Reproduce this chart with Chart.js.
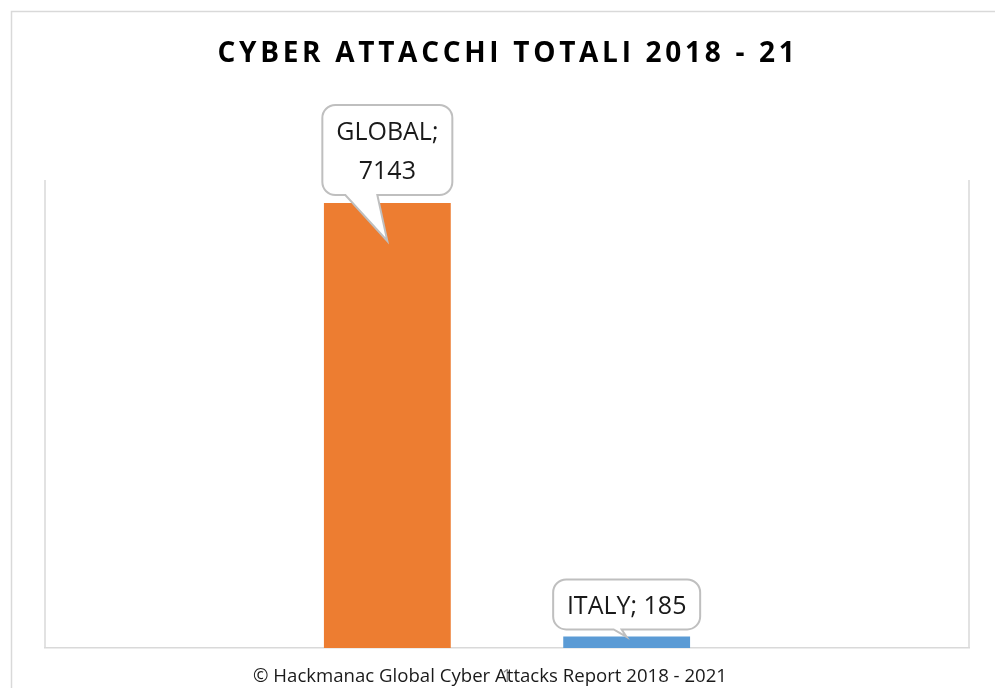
<!DOCTYPE html>
<html>
<head>
<meta charset="utf-8">
<script src="https://cdn.jsdelivr.net/npm/chart.js@4.4.1/dist/chart.umd.min.js"></script>
<style>
  html, body { margin: 0; padding: 0; background: #fff; }
  canvas { display: block; }
</style>
</head>
<body>
<canvas id="myChart" width="995" height="688"></canvas>
<script>
const categories = ['1']
const seriesNames = ['GLOBAL', 'ITALY']
const globalValues = [7143]
const italyValues = [185]
const seriesColors = ['#ED7D31', '#5B9BD5']
const chartTitle = 'CYBER ATTACCHI TOTALI 2018 - 21'
const footerText = '\u00A9 Hackmanac Global Cyber Attacks Report 2018 - 2021'

const lineGray = '#d9d9d9'
const textColor = '#1a1a1a'

const framePlugin = {
    id: 'frame',
    beforeDraw(chart) {
        const ctx = chart.ctx
        const area = chart.chartArea
        ctx.save()
        ctx.strokeStyle = lineGray
        ctx.lineWidth = 1.5
        ctx.strokeRect(11.5, 11.5, 1000, 700)
        ctx.beginPath()
        ctx.moveTo(area.left, area.top)
        ctx.lineTo(area.left, area.bottom)
        ctx.moveTo(area.right, area.top)
        ctx.lineTo(area.right, area.bottom)
        ctx.stroke()

        // title with letter spacing
        ctx.fillStyle = '#000'
        ctx.font = 'bold 28px "Open Sans"'
        ctx.letterSpacing = '3.7px'
        ctx.textAlign = 'center'
        ctx.textBaseline = 'middle'
        ctx.fillText(chartTitle, 508, 54)
        ctx.restore()
    },
    beforeDatasetsDraw(chart) {
        const ctx = chart.ctx
        ctx.save()
        ctx.fillStyle = textColor
        ctx.font = '18.6px "Open Sans"'
        ctx.textAlign = 'center'
        ctx.textBaseline = 'alphabetic'
        ctx.fillText(footerText, 490, 682)
        ctx.restore()
    }
}

function roundBox(ctx, x, y, w, h, r, tip) {
    ctx.beginPath()
    ctx.moveTo(x + r, y)
    ctx.lineTo(x + w - r, y)
    ctx.arcTo(x + w, y, x + w, y + r, r)
    ctx.lineTo(x + w, y + h - r)
    ctx.arcTo(x + w, y + h, x + w - r, y + h, r)
    ctx.lineTo(tip.b2, y + h)
    ctx.lineTo(tip.x, tip.y)
    ctx.lineTo(tip.b1, y + h)
    ctx.lineTo(x + r, y + h)
    ctx.arcTo(x, y + h, x, y + h - r, r)
    ctx.lineTo(x, y + r)
    ctx.arcTo(x, y, x + r, y, r)
    ctx.closePath()
}

const calloutPlugin = {
    id: 'callouts',
    afterDatasetsDraw(chart) {
        const ctx = chart.ctx
        ctx.save()
        ctx.font = '25px "Open Sans"'
        ctx.textAlign = 'center'
        ctx.textBaseline = 'middle'
        chart.data.datasets.forEach((ds, i) => {
            const bar = chart.getDatasetMeta(i).data[0]
            const cx = bar.x
            const label = seriesNames[i] + '; ' + ds.data[0]
            let box, tip, lines
            if (i === 0) {
                lines = [seriesNames[i] + ';', String(ds.data[0])]
                box = { w: 130, h: 90 }
                box.x = cx - 65
                box.y = bar.y - 98
                tip = { x: cx, y: bar.y + 38, b1: cx - 42, b2: cx - 10 }
            } else {
                lines = [label]
                box = { w: 147, h: 50 }
                box.x = cx - 73.5
                box.y = bar.y - 57
                tip = { x: cx, y: bar.y + 0.5, b1: cx - 13, b2: cx - 5 }
            }
            roundBox(ctx, box.x, box.y, box.w, box.h, 13, tip)
            ctx.fillStyle = '#fff'
            ctx.fill()
            ctx.strokeStyle = '#bfbfbf'
            ctx.lineWidth = 2
            ctx.stroke()
            ctx.fillStyle = textColor
            const lh = 39
            const startY = box.y + box.h / 2 + 2 - (lines.length - 1) * lh / 2
            lines.forEach((t, k) => ctx.fillText(t, cx, startY + k * lh))
        })
        ctx.restore()
    }
}

new Chart('myChart', {
    type: 'bar',
    data: {
        labels: categories,
        datasets: [{
            label: seriesNames[0],
            data: globalValues,
            backgroundColor: seriesColors[0]
        }, {
            label: seriesNames[1],
            data: italyValues,
            backgroundColor: seriesColors[1]
        }]
    },
    options: {
        responsive: false,
        animation: false,
        layout: {
            padding: { left: 45, right: 26, top: 180, bottom: 0 }
        },
        datasets: {
            bar: {
                categoryPercentage: 0.518,
                barPercentage: 0.53
            }
        },
        plugins: {
            legend: { display: false },
            title: { display: false },
            tooltip: { enabled: false }
        },
        scales: {
            x: {
                grid: { display: false, drawTicks: false },
                border: { display: true, color: lineGray, width: 1.5 },
                ticks: {
                    color: '#8c8c8c',
                    font: { family: '"Open Sans"', size: 18 },
                    padding: 18
                },
                afterFit(scale) {
                    scale.height = 40
                }
            },
            y: {
                display: false,
                min: 0,
                max: 7512
            }
        }
    },
    plugins: [framePlugin, calloutPlugin]
})
</script>
</body>
</html>
